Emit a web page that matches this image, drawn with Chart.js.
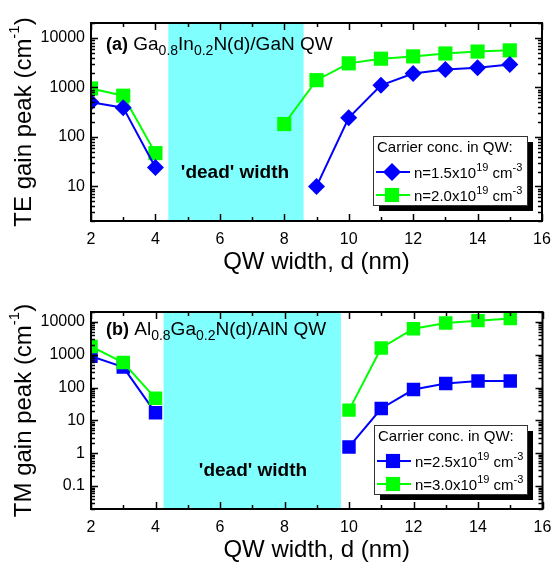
<!DOCTYPE html>
<html>
<head>
<meta charset="utf-8">
<script src="https://cdn.jsdelivr.net/npm/chart.js@4.4.1/dist/chart.umd.min.js"></script>
<style>
  body { margin: 0; background: #fff; }
  canvas { display: block; }
</style>
</head>
<body>
<canvas id="chartTE" width="552" height="280"></canvas>
<canvas id="chartTM" width="552" height="285"></canvas>
<script>
// QW widths (nm), null where no gain was computed
const widths = [2, 3, 4, 5, 6, 7, 8, 9, 10, 11, 12, 13, 14, 15];

// (a) Ga0.8In0.2N/GaN, TE gain peak (cm^-1)
const teLow  = [500, 390, 24, null, null, null, null, 10, 243, 1100, 1900, 2290, 2500, 2900];
const teHigh = [950, 680, 47, null, null, null, 182, 1400, 3060, 3800, 4230, 4850, 5300, 5600];

// (b) Al0.8Ga0.2N/AlN, TM gain peak (cm^-1)
const tmLow  = [900, 420, 17, null, null, null, null, null, 1.55, 23, 87, 133, 158, 158];
const tmHigh = [1790, 580, 47, null, null, null, null, null, 20.5, 1600, 6200, 9300, 10900, 12600];

// carrier concentrations (x10^19 cm^-3)
const teConc = ['1.5', '2.0'];
const tmConc = ['2.5', '3.0'];

// 'dead' width ranges (nm)
const teDead = [4.4, 8.6];
const tmDead = [4.25, 9.75];

const xTicks = [2, 4, 6, 8, 10, 12, 14, 16];
const teYTicks = [10, 100, 1000, 10000];
const tmYTicks = [0.1, 1, 10, 100, 1000, 10000];

const FONT = '"Liberation Sans", Arial, sans-serif';
const BLUE = '#0000ff';
const GREEN = '#00ff00';
const CYAN = '#80ffff';

function f(size, bold) {
    return (bold ? 'bold ' : '') + size + 'px ' + FONT;
}

function richWidth(ctx, parts) {
    let w = 0;
    parts.forEach(p => { ctx.font = p.font; w += ctx.measureText(p.t).width; });
    return w;
}

function drawRich(ctx, x, y, parts) {
    parts.forEach(p => {
        ctx.font = p.font;
        ctx.fillText(p.t, x, y + (p.dy || 0));
        x += ctx.measureText(p.t).width;
    });
}

function drawMarker(ctx, style, x, y, r, color) {
    ctx.fillStyle = color;
    ctx.beginPath();
    if (style === 'rectRot') {
        ctx.moveTo(x, y - r);
        ctx.lineTo(x + r, y);
        ctx.lineTo(x, y + r);
        ctx.lineTo(x - r, y);
        ctx.closePath();
    } else {
        const h = r * Math.SQRT1_2;
        ctx.rect(x - h, y - h, 2 * h, 2 * h);
    }
    ctx.fill();
}

// frame, inward ticks, labels, legend
const decorPlugin = {
    id: 'decor',
    beforeDatasetsDraw(chart) {
        const cfg = chart.options.plugins.decor;
        const { ctx, chartArea: a, scales: { x } } = chart;
        const x0 = x.getPixelForValue(cfg.dead[0]);
        const x1 = x.getPixelForValue(cfg.dead[1]);
        ctx.save();
        ctx.fillStyle = CYAN;
        ctx.fillRect(x0, a.top, x1 - x0, a.bottom - a.top);
        ctx.restore();
    },
    afterDatasetsDraw(chart) {
        const cfg = chart.options.plugins.decor;
        const { ctx, chartArea: a, scales: { x, y } } = chart;
        ctx.save();
        ctx.strokeStyle = '#000';
        ctx.fillStyle = '#000';

        // x ticks every nm, top and bottom, pointing in
        ctx.lineWidth = 1.5;
        ctx.beginPath();
        for (let v = x.min; v <= x.max; v++) {
            const px = Math.round(x.getPixelForValue(v)) + 0.5;
            const len = v % 2 === 0 ? 7 : 4;
            ctx.moveTo(px, a.bottom); ctx.lineTo(px, a.bottom - len);
            ctx.moveTo(px, a.top); ctx.lineTo(px, a.top + len);
        }
        // log y ticks, left and right
        const d0 = Math.floor(Math.log10(y.min));
        const d1 = Math.ceil(Math.log10(y.max));
        for (let d = d0; d <= d1; d++) {
            for (let k = 1; k <= 9; k++) {
                const v = k * Math.pow(10, d);
                if (v < y.min * 0.999 || v > y.max * 1.001) continue;
                const py = Math.round(y.getPixelForValue(v)) + 0.5;
                const len = k === 1 ? 7 : 4;
                ctx.moveTo(a.left, py); ctx.lineTo(a.left + len, py);
                ctx.moveTo(a.right, py); ctx.lineTo(a.right - len, py);
            }
        }
        ctx.stroke();

        // frame
        ctx.lineWidth = 2;
        ctx.strokeRect(a.left, a.top, a.right - a.left, a.bottom - a.top);

        // 'dead' width text
        ctx.textBaseline = 'alphabetic';
        ctx.textAlign = 'center';
        ctx.font = f(19, true);
        ctx.fillText("'dead' width", cfg.deadText[0], cfg.deadText[1]);

        // panel label
        ctx.textAlign = 'left';
        drawRich(ctx, 106, cfg.labelY, cfg.label);

        // axis titles
        const xt = [{ t: 'QW width, d (nm)', font: f(24) }];
        ctx.textBaseline = 'middle';
        drawRich(ctx, (a.left + a.right) / 2 - richWidth(ctx, xt) / 2, cfg.xTitleY, xt);
        const yt = cfg.yTitle;
        ctx.translate(24, (a.top + a.bottom) / 2);
        ctx.rotate(-Math.PI / 2);
        drawRich(ctx, -richWidth(ctx, yt) / 2, 0, yt);
        ctx.restore();

        // legend box with drop shadow
        const b = cfg.legendBox;
        ctx.save();
        ctx.fillStyle = '#000';
        ctx.fillRect(b.x + 6, b.y + 6, b.w, b.h);
        ctx.fillStyle = '#fff';
        ctx.fillRect(b.x, b.y, b.w, b.h);
        ctx.strokeStyle = '#333';
        ctx.lineWidth = 1;
        ctx.strokeRect(b.x + 0.5, b.y + 0.5, b.w, b.h);
        ctx.fillStyle = '#000';
        ctx.textBaseline = 'alphabetic';
        ctx.font = f(15);
        ctx.fillText('Carrier conc. in QW:', b.x + 4, b.y + 16);
        cfg.legend.forEach((e, i) => {
            const cy = b.y + 36 + i * 23;
            ctx.strokeStyle = e.color;
            ctx.lineWidth = 2;
            ctx.beginPath();
            ctx.moveTo(b.x + 3, cy); ctx.lineTo(b.x + 37, cy);
            ctx.stroke();
            drawMarker(ctx, e.style, b.x + 19, cy, e.r, e.color);
            ctx.fillStyle = '#000';
            drawRich(ctx, b.x + 41, cy + 6, [
                { t: 'n=' + e.conc + 'x10', font: f(15) },
                { t: '19', font: f(11), dy: -7 },
                { t: ' cm', font: f(15) },
                { t: '-3', font: f(11), dy: -7 }
            ]);
        });
        ctx.restore();
    }
};

function makeChart(id, cfg) {
    const ctx = document.getElementById(id).getContext('2d');
    return new Chart(ctx, {
        type: 'line',
        data: {
            datasets: cfg.series.map(s => ({
                data: s.values.map((v, i) => ({ x: widths[i], y: v })),
                borderColor: s.color,
                backgroundColor: s.color,
                borderWidth: 2,
                pointStyle: s.style,
                pointRadius: s.r,
                pointBorderWidth: 0,
                pointBackgroundColor: s.color,
                spanGaps: false,
                order: s.order
            }))
        },
        options: {
            responsive: false,
            animation: false,
            devicePixelRatio: 1,
            layout: { padding: { top: cfg.top, right: 9, left: 0, bottom: 0 } },
            scales: {
                x: {
                    type: 'linear',
                    min: 2,
                    max: 16,
                    afterBuildTicks: s => { s.ticks = xTicks.map(v => ({ value: v })); },
                    afterFit: s => {
                        s.height = cfg.xHeight;
                        s.paddingLeft = 0;
                        s.paddingRight = 0;
                    },
                    grid: { display: false, drawTicks: false },
                    border: { display: false },
                    ticks: { color: '#000', font: { family: FONT, size: 16 }, padding: 9, maxRotation: 0, autoSkip: false }
                },
                y: {
                    type: 'logarithmic',
                    min: cfg.yMin,
                    max: cfg.yMax,
                    afterBuildTicks: s => { s.ticks = cfg.yTicks.map(v => ({ value: v })); },
                    afterFit: s => {
                        s.width = 91;
                        s.paddingTop = 0;
                        s.paddingBottom = 0;
                    },
                    grid: { display: false, drawTicks: false },
                    border: { display: false },
                    ticks: { color: '#000', font: { family: FONT, size: 16 }, padding: 6, callback: v => String(v) }
                }
            },
            plugins: {
                legend: { display: false },
                tooltip: { enabled: false },
                decor: cfg.decor
            }
        },
        plugins: [decorPlugin]
    });
}

makeChart('chartTE', {
    top: 23, xHeight: 59, yMin: 2, yMax: 20000, yTicks: teYTicks,
    series: [
        { values: teLow, color: BLUE, style: 'rectRot', r: 8.5, order: 0 },
        { values: teHigh, color: GREEN, style: 'rect', r: 10, order: 1 }
    ],
    decor: {
        dead: teDead,
        deadText: [235, 178],
        labelY: 50,
        label: [
            { t: '(a)', font: f(18, true) },
            { t: ' Ga', font: f(19) },
            { t: '0.8', font: f(14), dy: 5 },
            { t: 'In', font: f(19) },
            { t: '0.2', font: f(14), dy: 5 },
            { t: 'N(d)/GaN QW', font: f(19) }
        ],
        xTitleY: 262,
        yTitle: [
            { t: 'TE gain peak (cm', font: f(24) },
            { t: '-1', font: f(15), dy: -9 },
            { t: ')', font: f(24) }
        ],
        legendBox: { x: 373, y: 136, w: 154, h: 69 },
        legend: [
            { color: BLUE, style: 'rectRot', r: 9, conc: teConc[0] },
            { color: GREEN, style: 'rect', r: 10, conc: teConc[1] }
        ]
    }
});

makeChart('chartTM', {
    top: 32, xHeight: 56, yMin: 0.02, yMax: 20000, yTicks: tmYTicks,
    series: [
        { values: tmLow, color: BLUE, style: 'rect', r: 9.5, order: 1 },
        { values: tmHigh, color: GREEN, style: 'rect', r: 9.5, order: 0 }
    ],
    decor: {
        dead: tmDead,
        deadText: [253, 196],
        labelY: 55,
        label: [
            { t: '(b)', font: f(18, true) },
            { t: ' Al', font: f(19) },
            { t: '0.8', font: f(14), dy: 5 },
            { t: 'Ga', font: f(19) },
            { t: '0.2', font: f(14), dy: 5 },
            { t: 'N(d)/AlN QW', font: f(19) }
        ],
        xTitleY: 270,
        yTitle: [
            { t: 'TM gain peak (cm', font: f(24) },
            { t: '-1', font: f(15), dy: -9 },
            { t: ')', font: f(24) }
        ],
        legendBox: { x: 374, y: 145, w: 153, h: 69 },
        legend: [
            { color: BLUE, style: 'rect', r: 10, conc: tmConc[0] },
            { color: GREEN, style: 'rect', r: 10, conc: tmConc[1] }
        ]
    }
});
</script>
</body>
</html>
